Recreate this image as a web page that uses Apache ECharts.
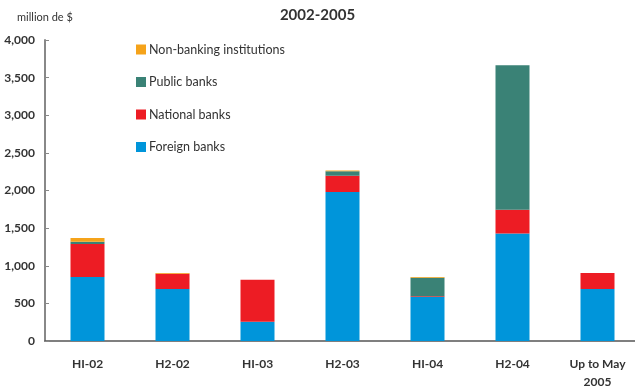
<!DOCTYPE html>
<html lang="en">
<head>
  <meta charset="UTF-8">
  <title>2002-2005</title>
  <script src="https://cdn.jsdelivr.net/npm/echarts@6/dist/echarts.min.js"></script>
  <style>
    * { margin: 0; padding: 0; }
    #chart { width: 635px; height: 387px; }
  </style>
</head>
<body>
  <div id="chart"></div>
<script>
  // categories and values (million de $)
  var periods = ['HI-02', 'H2-02', 'HI-03', 'H2-03', 'HI-04', 'H2-04', 'Up to May\n2005'];
  var foreignBanks = [850, 690, 255, 1980, 585, 1430, 690];
  var nationalBanks = [440, 205, 560, 215, 10, 315, 215];
  var publicBanks = [30, 0, 0, 62, 245, 1920, 0];
  var nonBanking = [50, 10, 0, 10, 10, 0, 0];

  var font = 'Lato, "Open Sans", sans-serif';
  var myChart = echarts.init(document.getElementById('chart'));

  var option = {
    animation: false,
    textStyle: { fontFamily: font },
    title: [{
      text: '2002-2005',
      left: 'center',
      top: 3,
      textStyle: { fontSize: 15, fontWeight: 'bold', color: '#333', fontFamily: font }
    }, {
      text: 'million de $',
      left: 12,
      top: 7,
      textStyle: { fontSize: 11, fontWeight: 'normal', color: '#333', fontFamily: font }
    }],
    legend: {
      orient: 'vertical',
      left: 131,
      top: 38,
      itemWidth: 10,
      itemHeight: 10,
      itemGap: 19.5,
      icon: 'rect',
      textStyle: { fontSize: 12.5, color: '#333', fontFamily: font, padding: [0, 0, 0, -2] },
      data: ['Non-banking institutions', 'Public banks', 'National banks', 'Foreign banks']
    },
    grid: {
      left: 45,
      right: -5,
      top: 40,
      bottom: 46,
      outerBoundsMode: 'none'
    },
    xAxis: {
      type: 'category',
      data: periods,
      axisLine: { lineStyle: { color: '#555', width: 1.5 } },
      axisTick: { show: false },
      axisLabel: {
        interval: 0,
        margin: 14,
        fontSize: 12,
        fontWeight: 'bold',
        color: '#333',
        lineHeight: 18
      }
    },
    yAxis: {
      type: 'value',
      min: 0,
      max: 4000,
      interval: 500,
      axisLine: { show: true, lineStyle: { color: '#888', width: 2 } },
      axisTick: { show: true, inside: true, length: 4, lineStyle: { color: '#888' } },
      splitLine: { show: false },
      axisLabel: {
        margin: 10,
        fontSize: 12,
        fontWeight: 'bold',
        color: '#333',
        formatter: function (v) { return v.toLocaleString('en-US'); }
      }
    },
    series: [{
      name: 'Foreign banks',
      type: 'bar',
      stack: 'total',
      barWidth: '40%',
      itemStyle: { color: '#0095DA' },
      data: foreignBanks
    }, {
      name: 'National banks',
      type: 'bar',
      stack: 'total',
      itemStyle: { color: '#ED1C24' },
      data: nationalBanks
    }, {
      name: 'Public banks',
      type: 'bar',
      stack: 'total',
      itemStyle: { color: '#3A8276' },
      data: publicBanks
    }, {
      name: 'Non-banking institutions',
      type: 'bar',
      stack: 'total',
      itemStyle: { color: '#F5A31A' },
      data: nonBanking
    }]
  };

  myChart.setOption(option);
</script>
</body>
</html>
